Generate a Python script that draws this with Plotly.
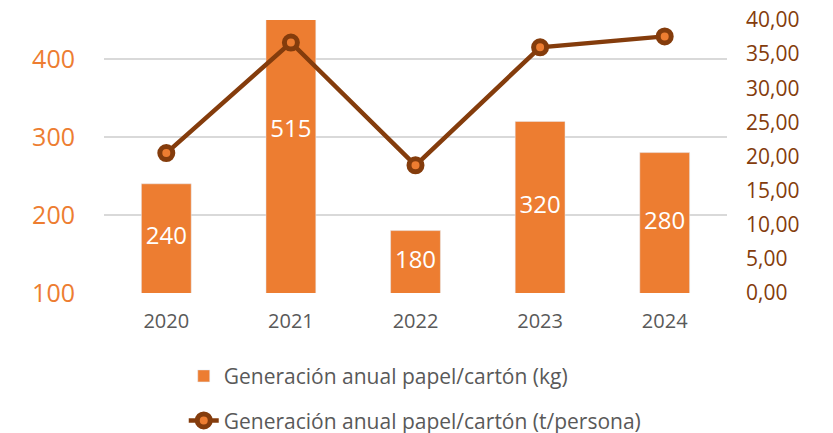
import plotly.graph_objects as go

years = ["2020", "2021", "2022", "2023", "2024"]
kg_values = [240, 515, 180, 320, 280]
t_persona = [20.5, 36.7, 18.7, 36.0, 37.6]
left_ticks = [100, 200, 300, 400]
right_ticks = [0, 5, 10, 15, 20, 25, 30, 35, 40]

ORANGE = "#ED7D31"
BROWN = "#843C0C"
GRAY = "#595959"
FONT = "Open Sans"
LEFT_MIN, LEFT_MAX = 100, 450

fig = go.Figure()
fig.add_trace(go.Bar(
    x=years, y=kg_values, name="Generación anual papel/cartón (kg)",
    marker_color=ORANGE, yaxis="y", legend="legend",
))
# data labels centred in the visible part of each bar
fig.add_trace(go.Scatter(
    x=years, y=[(LEFT_MIN + v) / 2 for v in kg_values], text=[str(v) for v in kg_values],
    mode="text", textposition="middle center", yaxis="y", showlegend=False, hoverinfo="skip",
    textfont=dict(color="white", size=24, family=FONT),
))
fig.add_trace(go.Scatter(
    x=years, y=t_persona, name="Generación anual papel/cartón (t/persona)",
    mode="lines+markers", yaxis="y2", legend="legend2",
    line=dict(color=BROWN, width=4.5),
    marker=dict(symbol="circle", size=13, color=ORANGE, line=dict(color=BROWN, width=5)),
))

fig.update_layout(
    width=833, height=433,
    margin=dict(l=96, r=114, t=12, b=148, autoexpand=False),
    paper_bgcolor="white", plot_bgcolor="white",
    separators=",.",
    font=dict(family=FONT, color=GRAY),
    xaxis=dict(type="category", categoryorder="array", categoryarray=years, range=[-0.5, 4.5],
               showgrid=False, showline=False, zeroline=False, ticks="",
               tickfont=dict(size=20, color=GRAY), ticklabelstandoff=14),
    yaxis=dict(range=[LEFT_MIN, LEFT_MAX], tickvals=left_ticks, showgrid=True,
               gridcolor="#D9D9D9", gridwidth=1.5, zeroline=False, showline=False,
               tickfont=dict(size=25, color=ORANGE), ticklabelstandoff=28,
               ticklabeloverflow="allow"),
    yaxis2=dict(range=[0, 40], tickvals=right_ticks, tickformat=".2f", overlaying="y", side="right",
                showgrid=False, zeroline=False, showline=False,
                tickfont=dict(size=21, color=BROWN), ticklabelstandoff=18,
                ticklabeloverflow="allow"),
    showlegend=True,
    legend=dict(x=0.128, y=-0.305, xanchor="left", yanchor="middle", orientation="v",
                font=dict(size=21, color=GRAY), bgcolor="rgba(0,0,0,0)"),
    legend2=dict(x=0.128, y=-0.468, xanchor="left", yanchor="middle", orientation="v",
                 font=dict(size=21, color=GRAY), bgcolor="rgba(0,0,0,0)"),
    bargap=0.6,
)

fig.write_html("out.html")
